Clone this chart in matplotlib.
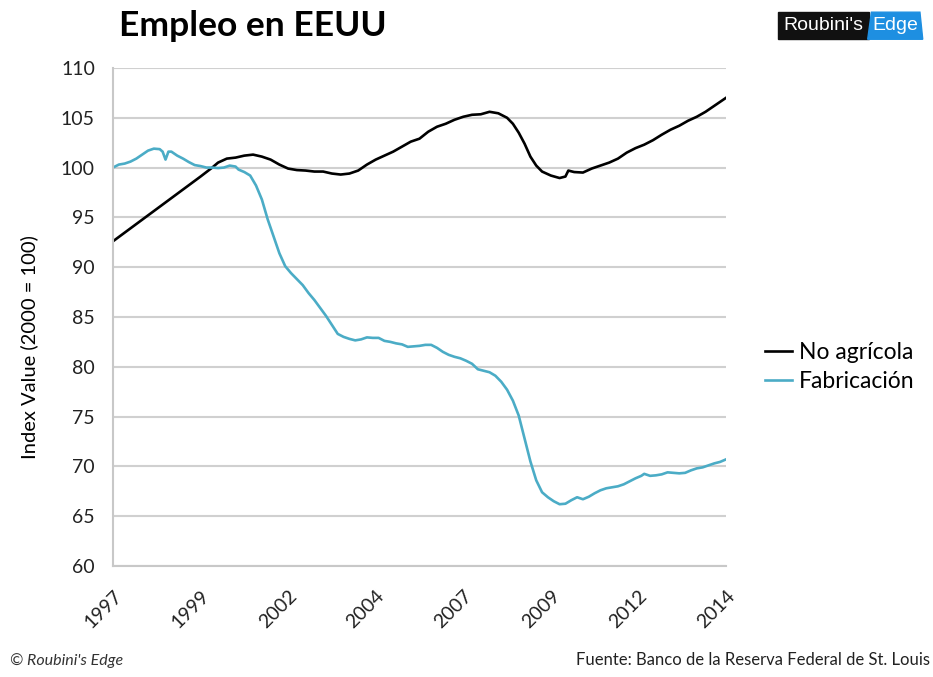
import numpy as np
import matplotlib.pyplot as plt
from matplotlib.patches import Polygon, Rectangle

# months counted from Jan 1997 (monthly data up to Jul 2014)
nonfarm_months = [0, 6, 12, 18, 24, 30, 34, 36, 39, 42, 45, 48, 51, 54, 57, 60, 63, 66,
                  69, 72, 75, 78, 81, 84, 87, 90, 93, 96, 99, 102, 105, 108, 111, 114,
                  117, 120, 123, 126, 129, 132, 135, 137, 139, 141, 143, 145, 147, 150,
                  153, 155, 156, 158, 161, 164, 167, 170, 173, 176, 179, 182, 185, 188,
                  191, 194, 197, 200, 203, 206, 210]
nonfarm = [92.6, 93.9, 95.2, 96.5, 97.8, 99.1, 100.0, 100.5, 100.9, 101.0, 101.2, 101.3,
           101.1, 100.8, 100.3, 99.9, 99.75, 99.7, 99.6, 99.6, 99.4, 99.3, 99.4, 99.7,
           100.3, 100.8, 101.2, 101.6, 102.1, 102.6, 102.9, 103.6, 104.1, 104.4, 104.8,
           105.1, 105.3, 105.35, 105.6, 105.45, 105.0, 104.4, 103.5, 102.4, 101.1, 100.2,
           99.6, 99.2, 98.95, 99.1, 99.7, 99.55, 99.5, 99.9, 100.2, 100.5, 100.9, 101.5,
           101.95, 102.3, 102.75, 103.3, 103.8, 104.2, 104.7, 105.1, 105.6, 106.2, 107.0]

manuf_months = [0, 2, 4, 6, 8, 10, 12, 14, 16, 17, 18, 19, 20, 22, 24, 26, 28, 30, 32, 34,
                36, 38, 40, 42, 43, 45, 47, 49, 51, 53, 55, 57, 59, 61, 63, 65, 67, 69, 71,
                73, 75, 77, 79, 81, 83, 85, 87, 89, 91, 93, 95, 97, 99, 101, 103, 105, 107,
                109, 111, 113, 115, 117, 119, 121, 123, 125, 127, 129, 131, 133, 135, 137,
                139, 141, 143, 145, 147, 149, 151, 153, 155, 157, 159, 161, 163, 165, 167,
                169, 171, 173, 175, 177, 179, 181, 182, 184, 186, 188, 190, 192, 194, 196,
                198, 200, 202, 204, 206, 208, 210]
manuf = [100.0, 100.3, 100.4, 100.6, 100.9, 101.3, 101.7, 101.9, 101.85, 101.6, 100.8,
         101.6, 101.6, 101.2, 100.9, 100.55, 100.25, 100.15, 100.0, 100.0, 99.95, 100.0,
         100.2, 100.1, 99.8, 99.55, 99.2, 98.2, 96.8, 94.8, 93.1, 91.4, 90.1, 89.4, 88.8,
         88.2, 87.4, 86.7, 85.9, 85.1, 84.2, 83.3, 83.0, 82.8, 82.65, 82.75, 82.95, 82.9,
         82.9, 82.6, 82.5, 82.35, 82.25, 82.0, 82.05, 82.1, 82.2, 82.2, 81.9, 81.5, 81.2,
         81.0, 80.85, 80.6, 80.3, 79.75, 79.6, 79.45, 79.1, 78.5, 77.7, 76.6, 75.1, 72.8,
         70.5, 68.6, 67.4, 66.9, 66.5, 66.2, 66.25, 66.6, 66.9, 66.7, 66.95, 67.3, 67.6,
         67.8, 67.9, 68.0, 68.2, 68.5, 68.8, 69.05, 69.25, 69.05, 69.1, 69.2, 69.4, 69.35,
         69.3, 69.35, 69.6, 69.8, 69.9, 70.1, 70.3, 70.45, 70.7]

tick_months = [0, 30, 60, 90, 120, 150, 180, 210]
tick_labels = ['1997', '1999', '2002', '2004', '2007', '2009', '2012', '2014']

plt.rcParams['font.family'] = ['Lato', 'DejaVu Sans']

fig = plt.figure(figsize=(9.33, 6.77), dpi=100)
ax = fig.add_axes([0.1211, 0.164, 0.657, 0.7356])

ax.plot(nonfarm_months, nonfarm, color='#000000', lw=1.9, label='No agrícola')
ax.plot(manuf_months, manuf, color='#4bacc6', lw=1.9, label='Fabricación')

ax.set_xlim(0, 210)
ax.set_ylim(60, 110)
ax.set_yticks(np.arange(60, 111, 5))
ax.set_xticks(tick_months)
ax.set_xticklabels(tick_labels, rotation=45, ha='right', va='top', rotation_mode='anchor')
ax.tick_params(length=0, labelsize=14, colors='#222222', pad=13)
ax.tick_params(axis='x', pad=15)
ax.grid(axis='y', color='#d0d0d0', lw=1.5)
ax.set_axisbelow(True)
for s in ['top', 'right']:
    ax.spines[s].set_visible(False)
for s in ['left', 'bottom']:
    ax.spines[s].set_color('#c8c8c8')
    ax.spines[s].set_linewidth(1.5)
ax.set_ylabel('Index Value (2000 = 100)', fontsize=14.5)
ax.yaxis.set_label_coords(-0.122, 0.44)

ax.legend(loc='center left', bbox_to_anchor=(1.03, 0.4), frameon=False, fontsize=16.5,
          handlelength=1.2, handletextpad=0.3, labelspacing=0.35)

fig.text(0.128, 0.962, 'Empleo en EEUU', fontsize=25.5, fontweight='bold', va='center')

# logo
fig.patches.append(Rectangle((0.834, 0.942), 0.097, 0.04, transform=fig.transFigure,
                             color='#111111'))
fig.patches.append(Polygon([(0.93, 0.942), (0.989, 0.942), (0.986, 0.982), (0.934, 0.982)],
                           closed=True, transform=fig.transFigure, color='#1e8fe1'))
fig.text(0.882, 0.962, "Roubini's", color='white', fontsize=14, ha='center', va='center',
         family='Liberation Sans')
fig.text(0.960, 0.962, 'Edge', color='white', fontsize=14, ha='center', va='center',
         family='Liberation Sans')

fig.text(0.011, 0.017, "© Roubini's Edge", fontsize=11.5, style='italic', color='#333333')
fig.text(0.997, 0.017, 'Fuente: Banco de la Reserva Federal de St. Louis', fontsize=12,
         ha='right', color='#222222')

fig.savefig('out.png', dpi=100, facecolor='white')
